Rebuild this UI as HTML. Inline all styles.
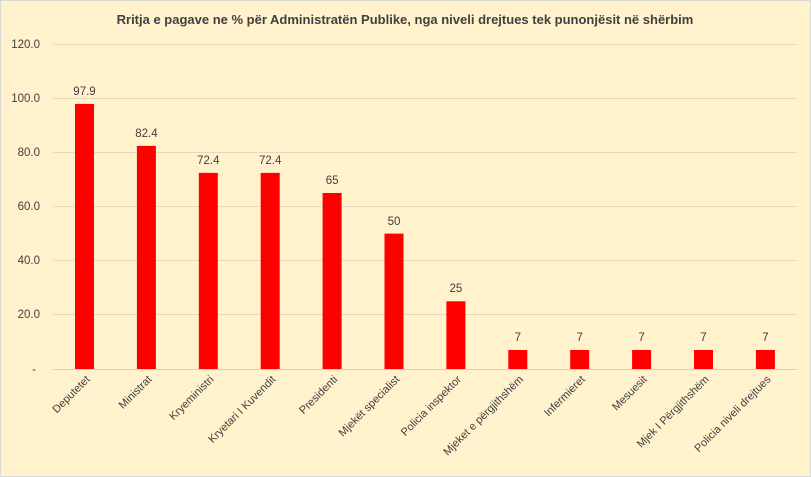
<!DOCTYPE html>
<html><head><meta charset="utf-8"><style>
html,body{margin:0;padding:0;background:#fff}
svg{display:block}
text{font-family:"Liberation Sans",sans-serif;fill:#404040}
</style></head><body>
<svg width="811" height="477" xmlns="http://www.w3.org/2000/svg">
<rect x="0.5" y="0.5" width="810" height="476" fill="#FFF2CC" stroke="#D9D9D9"/>
<text x="405" y="24" text-anchor="middle" font-size="13" font-weight="bold">Rritja e pagave ne % për Administratën Publike, nga niveli drejtues tek punonjësit në shërbim</text>
<g stroke="#E3D9BF" stroke-width="1">
<line x1="53" x2="797" y1="44.5" y2="44.5"/>
<line x1="53" x2="797" y1="98.5" y2="98.5"/>
<line x1="53" x2="797" y1="152.5" y2="152.5"/>
<line x1="53" x2="797" y1="206.5" y2="206.5"/>
<line x1="53" x2="797" y1="260.5" y2="260.5"/>
<line x1="53" x2="797" y1="314.5" y2="314.5"/>
<line x1="53" x2="797" y1="369.5" y2="369.5" stroke="#D9D0C0"/>
</g>
<g font-size="11.5" text-anchor="end">
<text x="40" y="48">120.0</text>
<text x="40" y="102">100.0</text>
<text x="40" y="156">80.0</text>
<text x="40" y="210">60.0</text>
<text x="40" y="264">40.0</text>
<text x="40" y="318">20.0</text>
<text x="36" y="373">-</text>
</g>
<g fill="#FF0000">
<rect x="75" y="103.9" width="19" height="265.1"/>
<rect x="136.9" y="145.9" width="19" height="223.1"/>
<rect x="198.8" y="172.9" width="19" height="196.1"/>
<rect x="260.7" y="172.9" width="19" height="196.1"/>
<rect x="322.6" y="193" width="19" height="176"/>
<rect x="384.5" y="233.6" width="19" height="135.4"/>
<rect x="446.4" y="301.3" width="19" height="67.7"/>
<rect x="508.3" y="350" width="19" height="19"/>
<rect x="570.2" y="350" width="19" height="19"/>
<rect x="632.1" y="350" width="19" height="19"/>
<rect x="694" y="350" width="19" height="19"/>
<rect x="755.9" y="350" width="19" height="19"/>
</g>
<g font-size="11.5" text-anchor="middle">
<text x="84.5" y="95">97.9</text>
<text x="146.4" y="137">82.4</text>
<text x="208.3" y="164">72.4</text>
<text x="270.2" y="164">72.4</text>
<text x="332.1" y="184">65</text>
<text x="394" y="225">50</text>
<text x="455.9" y="292">25</text>
<text x="517.8" y="341">7</text>
<text x="579.7" y="341">7</text>
<text x="641.6" y="341">7</text>
<text x="703.5" y="341">7</text>
<text x="765.4" y="341">7</text>
</g>
<g font-size="11" text-anchor="end">
<text transform="translate(90.5,380) rotate(-45)">Deputetet</text>
<text transform="translate(152.4,380) rotate(-45)">Ministrat</text>
<text transform="translate(214.3,380) rotate(-45)">Kryeministri</text>
<text transform="translate(276.2,380) rotate(-45)">Kryetari I Kuvendit</text>
<text transform="translate(338.1,380) rotate(-45)">Presidenti</text>
<text transform="translate(400,380) rotate(-45)">Mjekët specialist</text>
<text transform="translate(461.9,380) rotate(-45)">Policia inspektor</text>
<text transform="translate(523.8,380) rotate(-45)">Mjeket e përgjithshëm</text>
<text transform="translate(585.7,380) rotate(-45)">Infermieret</text>
<text transform="translate(647.6,380) rotate(-45)">Mesuesit</text>
<text transform="translate(709.5,380) rotate(-45)">Mjek I Përgjithshëm</text>
<text transform="translate(771.4,380) rotate(-45)">Policia niveli drejtues</text>
</g>
</svg>
</body></html>
